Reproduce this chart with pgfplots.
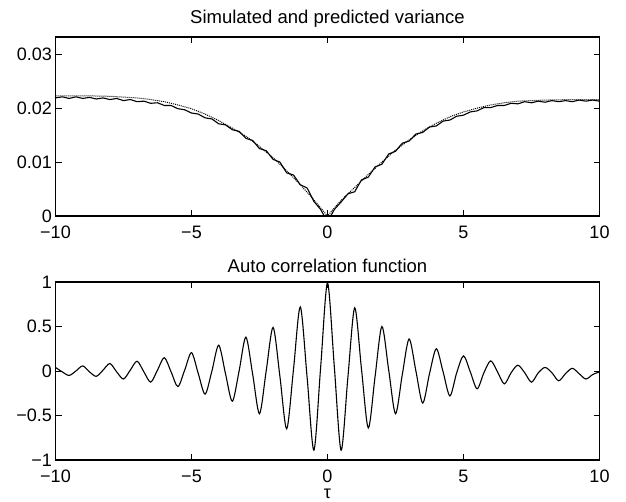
\documentclass[border=0pt]{standalone}
\usepackage{fontspec}
\setmainfont{Liberation Sans}
\usepackage{pgfplots}
\pgfplotsset{compat=1.18}
\pgfplotstableread{
x y
-10 0.0219
-9.75 0.0221
-9.5 0.0218
-9.25 0.0221
-9 0.0218
-8.75 0.0220
-8.5 0.0217
-8.25 0.0219
-8 0.0216
-7.75 0.0218
-7.5 0.0214
-7.25 0.0216
-7 0.0212
-6.75 0.0213
-6.5 0.0209
-6.25 0.0210
-6 0.0205
-5.75 0.0205
-5.5 0.0199
-5.25 0.0197
-5 0.0191
-4.75 0.0189
-4.5 0.0182
-4.25 0.0180
-4 0.0171
-3.75 0.0169
-3.5 0.0160
-3.25 0.0157
-3 0.0144
-2.75 0.0140
-2.5 0.0125
-2.25 0.0121
-2 0.0105
-1.75 0.0100
-1.5 0.0080
-1.25 0.0076
-1 0.0058
-0.75 0.0052
-0.5 0.0027
-0.25 0.0012
-0.12 0.0000
0 0.0000
0.12 0.0000
0.25 0.0012
0.5 0.0026
0.75 0.0041
1 0.0045
1.25 0.0067
1.5 0.0072
1.75 0.0091
2 0.0096
2.25 0.0115
2.5 0.0120
2.75 0.0135
3 0.0139
3.25 0.0152
3.5 0.0155
3.75 0.0165
4 0.0167
4.25 0.0176
4.5 0.0178
4.75 0.0185
5 0.0187
5.25 0.0193
5.5 0.0195
5.75 0.0201
6 0.0201
6.25 0.0205
6.5 0.0205
6.75 0.0209
7 0.0208
7.25 0.0212
7.5 0.0210
7.75 0.0213
8 0.0211
8.25 0.0214
8.5 0.0212
8.75 0.0214
9 0.0212
9.25 0.0215
9.5 0.0213
9.75 0.0215
10 0.0213
}\simvar
\pgfplotstableread{
x y
-10 0.0223
-9 0.0223
-8 0.0222
-7 0.0219
-6.5 0.0216
-6 0.0212
-5.5 0.0206
-5 0.0199
-4.5 0.0189
-4 0.0177
-3.5 0.0163
-3 0.0148
-2.5 0.0129
-2 0.0108
-1.5 0.0084
-1 0.0058
-0.5 0.0030
-0.25 0.0015
0 0.0000
0.25 0.0015
0.5 0.0029
1 0.0053
1.5 0.0077
2 0.0100
2.5 0.0122
3 0.0141
3.5 0.0158
4 0.0172
4.5 0.0184
5 0.0193
5.5 0.0200
6 0.0206
6.5 0.0210
7 0.0213
8 0.0215
9 0.0216
10 0.0216
}\predvar
\pgfplotstableread{
x y
-10 0.04
-9.75 -0.01
-9.5 -0.05
-9.25 0.00
-9 0.057
-8.75 -0.01
-8.5 -0.06
-8.25 0.01
-8 0.084
-7.75 -0.01
-7.5 -0.09
-7.25 0.01
-7 0.11
-6.75 -0.01
-6.5 -0.125
-6.25 0.01
-6 0.15
-5.75 -0.01
-5.5 -0.175
-5.25 0.01
-5 0.206
-4.75 -0.03
-4.5 -0.26
-4.25 0.00
-4 0.29
-3.75 -0.03
-3.5 -0.34
-3.25 0.00
-3 0.38
-2.75 -0.04
-2.5 -0.48
-2.25 0.01
-2 0.49
-1.75 -0.06
-1.5 -0.65
-1.25 0.02
-1 0.72
-0.75 -0.07
-0.5 -0.89
-0.25 0.05
0 0.99
0.25 0.05
0.5 -0.89
0.75 -0.07
1 0.71
1.25 0.02
1.5 -0.64
1.75 -0.06
2 0.50
2.25 0.01
2.5 -0.48
2.75 -0.04
3 0.36
3.25 0.00
3.5 -0.36
3.75 -0.03
4 0.25
4.25 -0.01
4.5 -0.28
4.75 -0.02
5 0.17
5.25 -0.01
5.5 -0.20
5.75 -0.02
6 0.114
6.25 -0.01
6.5 -0.145
6.75 -0.02
7 0.065
7.25 -0.02
7.5 -0.125
7.75 -0.02
8 0.04
8.25 -0.02
8.5 -0.11
8.75 -0.03
9 0.03
9.25 -0.03
9.5 -0.09
9.75 -0.04
10 -0.01
}\acf
\begin{document}
\begin{tikzpicture}
\useasboundingbox (0pt,0pt) rectangle (626pt,502pt);
\pgfplotsset{every axis/.append style={
  scale only axis, width=544pt,
  xmin=-10, xmax=10,
  axis line style={line width=1.1pt, black},
  tick style={line width=0.9pt, black},
  major tick length=6pt,
  tick align=inside,
  scaled y ticks=false, scaled x ticks=false,
  xtick={-10,-5,0,5,10}, xticklabels={−10,−5,0,5,10},
  ticklabel style={font=\fontsize{18}{20}\selectfont},
  title style={font=\fontsize{18.5}{21}\selectfont},
  label style={font=\fontsize{18}{20}\selectfont},
  xticklabel style={inner sep=1pt, yshift=-9pt},
  clip=false,
}}
\begin{axis}[at={(55.5pt,286pt)}, anchor=south west, height=179pt,
  ymin=0, ymax=0.0332, ytick={0,0.01,0.02,0.03}, yticklabels={0,0.01,0.02,0.03},
  title={Simulated and predicted variance}]
\addplot[black, line width=1.1pt] table[x=x,y=y]{\simvar};
\addplot[black, line width=1pt, densely dotted] table[x=x,y=y]{\predvar};
\end{axis}
\begin{axis}[at={(55.5pt,42pt)}, anchor=south west, height=178pt,
  ymin=-1, ymax=1, ytick={-1,-0.5,0,0.5,1}, yticklabels={−1,−0.5,0,0.5,1},
  title={Auto correlation function}, xlabel={τ}, xlabel style={yshift=-4pt, inner sep=1pt}]
\addplot[black, line width=1.1pt, smooth] table[x=x,y=y]{\acf};
\end{axis}
\end{tikzpicture}
\end{document}
